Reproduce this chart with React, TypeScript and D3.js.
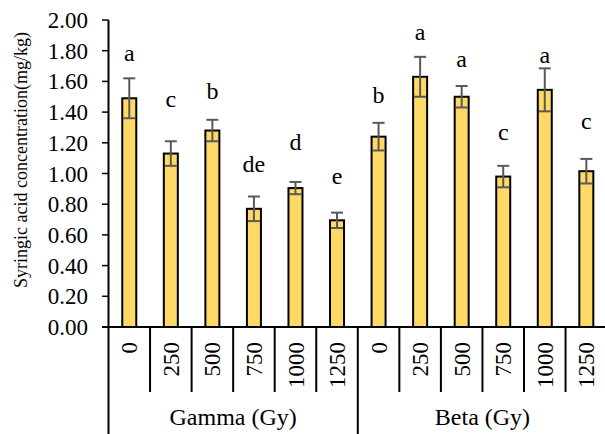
import React from "react";
import * as d3 from "d3";

const groups = ["Gamma (Gy)", "Beta (Gy)"];
const doses = ["0", "250", "500", "750", "1000", "1250"];
const gammaValues = [1.49, 1.13, 1.28, 0.77, 0.905, 0.695];
const gammaErrors = [0.13, 0.08, 0.07, 0.08, 0.04, 0.05];
const gammaLetters = ["a", "c", "b", "de", "d", "e"];
const gammaLetterAt = [1.73, 1.435, 1.485, 1.01, 1.15, 0.93];
const betaValues = [1.24, 1.63, 1.5, 0.98, 1.545, 1.015];
const betaErrors = [0.09, 0.13, 0.07, 0.07, 0.14, 0.08];
const betaLetters = ["b", "a", "a", "c", "a", "c"];
const betaLetterAt = [1.457, 1.87, 1.696, 1.218, 1.722, 1.288];
const yTicks = [0, 0.2, 0.4, 0.6, 0.8, 1.0, 1.2, 1.4, 1.6, 1.8, 2.0];

const W = 605;
const H = 434;
const FONT = "'Liberation Serif', 'Times New Roman', serif";

export default function App() {
  const items = groups.flatMap((g, gi) =>
    doses.map((d, di) => ({
      key: `${gi}-${di}`,
      group: gi,
      dose: d,
      value: gi === 0 ? gammaValues[di] : betaValues[di],
      err: gi === 0 ? gammaErrors[di] : betaErrors[di],
      letter: gi === 0 ? gammaLetters[di] : betaLetters[di],
      letterAt: gi === 0 ? gammaLetterAt[di] : betaLetterAt[di],
    }))
  );
  const x0 = 108.5;
  const band = 41.55;
  const x = d3
    .scaleBand<string>()
    .domain(items.map((d) => d.key))
    .range([x0, x0 + band * items.length])
    .paddingInner(0)
    .paddingOuter(0);
  const y = d3.scaleLinear().domain([0, 2]).range([327, 20]);
  const bw = 14;
  const cap = 6;

  const boundaries = d3.range(items.length + 1).map((i) => x0 + i * band);

  return (
    <svg
      width={W}
      height={H}
      style={{ position: "absolute", left: 0, top: 0, background: "#fff" }}
      fontFamily={FONT}
    >
      <rect width={W} height={H} fill="#fff" />
      {/* y axis title */}
      <text
        transform={`translate(27,${160}) rotate(-90)`}
        textAnchor="middle"
        fontSize={18}
        fill="#000"
      >
        Syringic acid concentration(mg/kg)
      </text>
      {/* y ticks */}
      {yTicks.map((t) => (
        <g key={t}>
          <line x1={102} x2={x0} y1={y(t)} y2={y(t)} stroke="#000" strokeWidth={1.5} />
          <text x={88} y={y(t)} dy="0.35em" textAnchor="end" fontSize={23} fill="#000">
            {t.toFixed(2)}
          </text>
        </g>
      ))}
      {/* bars */}
      {items.map((d) => {
        const cx = (x(d.key) as number) + x.bandwidth() / 2;
        return (
          <g key={d.key}>
            <rect
              x={cx - bw / 2}
              y={y(d.value)}
              width={bw}
              height={y(0) - y(d.value)}
              fill="#FFD966"
              stroke="#000"
              strokeWidth={2}
            />
            <line x1={cx} x2={cx} y1={y(d.value + d.err)} y2={y(d.value - d.err)} stroke="#595959" strokeWidth={2} />
            <line x1={cx - cap} x2={cx + cap} y1={y(d.value + d.err)} y2={y(d.value + d.err)} stroke="#595959" strokeWidth={2} />
            <line x1={cx - cap} x2={cx + cap} y1={y(d.value - d.err)} y2={y(d.value - d.err)} stroke="#595959" strokeWidth={2} />
            <text x={cx} y={y(d.letterAt)} textAnchor="middle" fontSize={24} fill="#000">
              {d.letter}
            </text>
            <text
              transform={`translate(${cx},342) rotate(-90)`}
              dy="0.35em"
              textAnchor="end"
              fontSize={23}
              fill="#000"
            >
              {d.dose}
            </text>
          </g>
        );
      })}
      {/* axes */}
      <line x1={x0} x2={x0} y1={y(2)} y2={y(0)} stroke="#000" strokeWidth={2} />
      <line x1={102} x2={W} y1={y(0)} y2={y(0)} stroke="#000" strokeWidth={2} />
      {boundaries.map((bx, i) => {
        const long = i % doses.length === 0;
        return (
          <line key={i} x1={bx} x2={bx} y1={y(0)} y2={long ? H : 392} stroke="#000" strokeWidth={2} />
        );
      })}
      {groups.map((g, gi) => (
        <text
          key={g}
          x={x0 + band * doses.length * (gi + 0.5)}
          y={425}
          textAnchor="middle"
          fontSize={24}
          fill="#000"
        >
          {g}
        </text>
      ))}
    </svg>
  );
}
